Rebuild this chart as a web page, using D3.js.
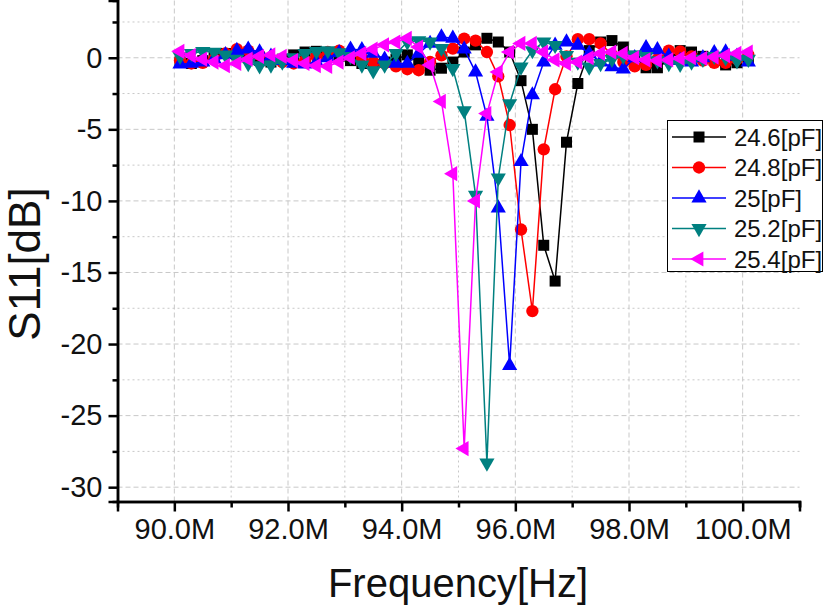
<!DOCTYPE html>
<html><head><meta charset="utf-8">
<script src="https://cdn.jsdelivr.net/npm/d3@7"></script>
<style>body{margin:0;background:#fff}svg{display:block;font-family:"Liberation Sans",Arial,sans-serif}</style>
</head><body><svg id="c" width="827" height="611"></svg>
<script>
const freq = [90.1,90.3,90.5,90.7,90.9,91.1,91.3,91.5,91.7,91.9,92.1,92.3,92.5,92.7,92.9,93.1,93.3,93.5,93.7,93.9,94.1,94.3,94.5,94.7,94.9,95.1,95.3,95.5,95.7,95.9,96.1,96.3,96.5,96.7,96.9,97.1,97.3,97.5,97.7,97.9,98.1,98.3,98.5,98.7,98.9,99.1,99.3,99.5,99.7,99.9,100.1];
const s246 = [-0.3,-0.4,-0.2,0.1,0.3,0.2,0.0,-0.2,-0.3,-0.1, 0.2,0.4,0.45,0.3,0.1,-0.2,-0.4,-0.45,-0.3,-0.1, 0.2,-0.3,-0.87,-0.73,-0.3,0.4,0.9,1.36,1.1,0.4, -1.6,-5.0,-13.1,-15.6,-5.9,-1.8,0.5,1.1,1.2,0.75, 0.1,-0.7,-0.7,-0.1,0.5,0.4,0.1,-0.2,-0.5,-0.35,0.0];
const s248 = [-0.2,-0.4,-0.35,-0.1,0.3,0.6,0.5,0.2,-0.1,-0.3, -0.4,-0.2,0.1,0.4,0.5,0.3,0.0,-0.3,-0.4,-0.6, -0.8,-0.87,-0.3,0.17,0.64,1.34,1.2,0.4,-1.3,-4.7, -12.0,-17.7,-6.4,-2.2,0.1,1.3,1.3,1.0,0.2,-0.3, -0.6,-0.5,-0.1,0.5,0.45,0.1,-0.2,-0.35,-0.35,-0.1,0.2];
const s250 = [-0.45,-0.4,-0.3,-0.1,0.2,0.5,0.6,0.4,0.1,-0.2, -0.4,-0.45,-0.3,0.0,0.35,0.6,0.55,0.3,-0.1,-0.4, -0.4,0.3,1.0,1.45,1.36,0.6,-1.0,-4.1,-10.5,-21.5, -7.26,-2.6,-0.3,0.87,1.1,0.87,0.3,-0.3,-0.64,-0.8, 0.0,0.7,0.55,0.1,-0.2,-0.3,0.0,0.35,0.4,0.1,-0.3];
const s252 = [0.1,0.3,0.45,0.4,0.2,-0.1,-0.4,-0.55,-0.5,-0.3, 0.0,0.3,0.45,0.5,0.35,0.1,-0.5,-0.9,-0.5,0.3, 1.1,1.2,1.1,0.66,-0.75,-3.7,-9.6,-28.3,-8.4,-3.2, -0.64,0.5,1.1,0.87,0.17,-0.3,-0.64,-0.4,-0.1,0.1, 0.2,0.1,-0.2,-0.4,-0.45,-0.3,-0.1,0.1,0.0,-0.2,-0.1];
const s254 = [0.45,0.15,-0.1,-0.3,-0.55,-0.4,-0.1,0.1,0.2,0.1, -0.2,-0.4,-0.55,-0.6,-0.3,0.0,0.3,0.6,0.9,1.1, 1.36,0.75,-0.5,-3.05,-8.1,-27.3,-10.0,-3.9,-1.0,0.4, 1.0,1.0,0.4,-0.15,-0.4,-0.3,0.0,0.3,0.4,0.3, 0.0,-0.15,-0.2,-0.15,-0.05,0.0,-0.05,0.05,0.15,0.3,0.4];
const seriesNames = ["24.6[pF]","24.8[pF]","25[pF]","25.2[pF]","25.4[pF]"];
const seriesValues = [s246,s248,s250,s252,s254];
const seriesColors = ["#000000","#ff0000","#0000ff","#008080","#ff00ff"];
const xTicks = [90,92,94,96,98,100];
const xTickLabels = ["90.0M","92.0M","94.0M","96.0M","98.0M","100.0M"];
const yTicks = [0,-5,-10,-15,-20,-25,-30];

const svg = d3.select("#c");
const L=117.5, R=799.5, T=0.5, B=501.5;
const x = d3.scaleLinear().domain([89,101]).range([L,R]);
const y = d3.scaleLinear().domain([-31,4]).range([B,T]);

// grid
const g = svg.append("g");
d3.range(90,101,1).forEach(v=>{
  g.append("line").attr("x1",x(v)).attr("x2",x(v)).attr("y1",T).attr("y2",B)
   .attr("stroke","#c8c8c8").attr("stroke-width",1).attr("stroke-dasharray", v%2===0?"5,3":"2,3");
});
d3.range(-30,3,2.5).forEach(v=>{
  g.append("line").attr("x1",L).attr("x2",R).attr("y1",y(v)).attr("y2",y(v))
   .attr("stroke","#c8c8c8").attr("stroke-width",1).attr("stroke-dasharray", v%5===0?"5,3":"2,3");
});

// series
const shapes = [
  {t:d3.symbolSquare, s:121, r:0},
  {t:d3.symbolCircle, s:120, r:0},
  {t:d3.symbolTriangle, s:100, r:0},
  {t:d3.symbolTriangle, s:100, r:180},
  {t:d3.symbolTriangle, s:100, r:-90}
];
const line = d3.line().x(d=>x(d[0])).y(d=>y(d[1]));
seriesValues.forEach((vals,k)=>{
  const pts = freq.map((f,i)=>[f,vals[i]]);
  const sg = svg.append("g");
  sg.append("path").attr("d",line(pts)).attr("fill","none").attr("stroke",seriesColors[k]).attr("stroke-width",1.5);
  const sym = d3.symbol().type(shapes[k].t).size(shapes[k].s);
  sg.selectAll("path.m").data(pts).join("path").attr("class","m").attr("d",sym)
    .attr("transform",d=>`translate(${x(d[0])},${y(d[1])}) rotate(${shapes[k].r})`)
    .attr("fill",seriesColors[k]);
});

// axes
const xAxis = d3.axisBottom(x).tickValues(xTicks).tickFormat((d,i)=>xTickLabels[i]).tickSize(10).tickPadding(7);
const xAxisMinor = d3.axisBottom(x).tickValues([91,93,95,97,99,101]).tickFormat("").tickSize(6);
const yAxis = d3.axisLeft(y).tickValues(yTicks).tickFormat(d=>String(d)).tickSize(9).tickPadding(6);
const yAxisMinor = d3.axisLeft(y).tickValues([2.5,-2.5,-7.5,-12.5,-17.5,-22.5,-27.5]).tickFormat("").tickSize(5);
const styleAxis = a => { a.select(".domain").attr("stroke","#000").attr("stroke-width",2.5);
  a.selectAll(".tick line").attr("stroke","#000").attr("stroke-width",2.5);
  a.selectAll("text").attr("font-size",29).attr("fill","#111").attr("font-family","'Liberation Sans',Arial,sans-serif"); };
svg.append("g").attr("transform",`translate(0,${B})`).call(xAxisMinor).call(styleAxis);
svg.append("g").attr("transform",`translate(0,${B})`).call(xAxis).call(styleAxis);
svg.append("g").attr("transform",`translate(${L},0)`).call(yAxisMinor).call(styleAxis);
svg.append("g").attr("transform",`translate(${L},0)`).call(yAxis).call(styleAxis);

// titles
svg.append("text").attr("x",458).attr("y",597).attr("text-anchor","middle").attr("font-size",40).attr("fill","#111").text("Frequency[Hz]");
svg.append("text").attr("transform","translate(40,264) rotate(-90)").attr("text-anchor","middle").attr("font-size",44).attr("fill","#111").text("S11[dB]");

// legend
const lg = svg.append("g");
lg.append("rect").attr("x",667.5).attr("y",120.5).attr("width",155).attr("height",151).attr("fill","#fff").attr("stroke","#000").attr("stroke-width",1);
seriesNames.forEach((n,k)=>{
  const cy = 137 + k*30.5;
  lg.append("line").attr("x1",672).attr("x2",726).attr("y1",cy).attr("y2",cy).attr("stroke",seriesColors[k]).attr("stroke-width",1.5);
  lg.append("path").attr("d",d3.symbol().type(shapes[k].t).size(shapes[k].s)()).attr("transform",`translate(699,${cy}) rotate(${shapes[k].r})`).attr("fill",seriesColors[k]);
  lg.append("text").attr("x",734).attr("y",cy+8.5).attr("font-size",24).attr("fill","#111").text(n);
});
</script></body></html>
